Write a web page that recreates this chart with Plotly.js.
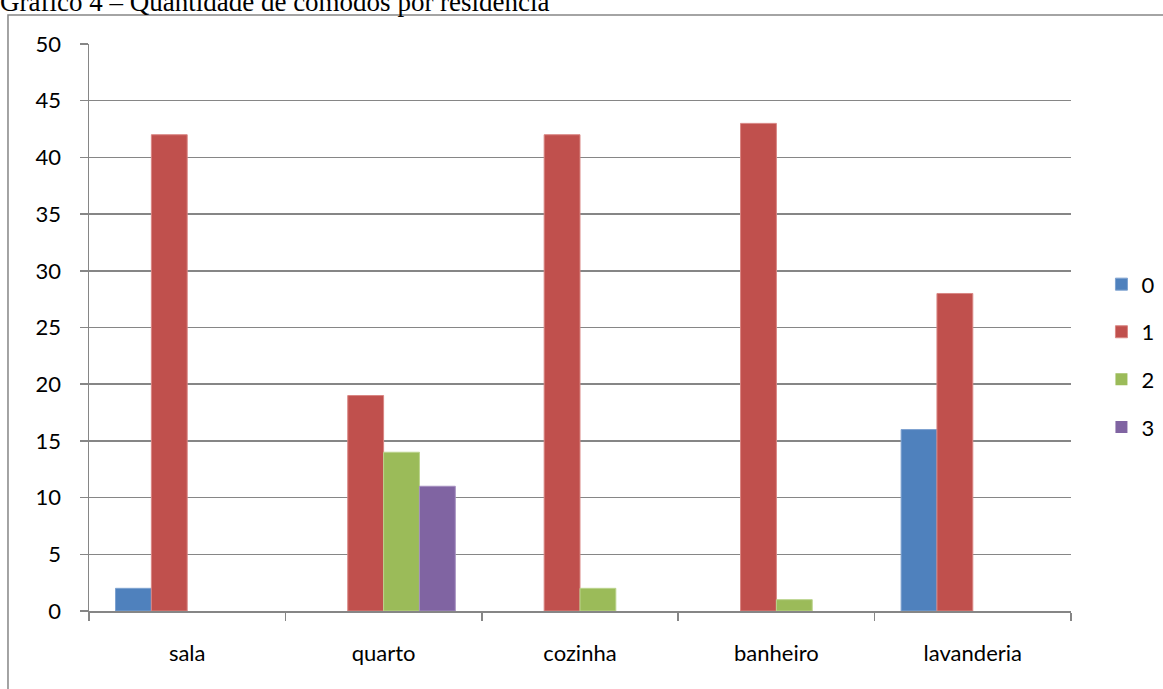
<!DOCTYPE html>
<html>
<head>
<meta charset="utf-8">
<script src="https://cdn.plot.ly/plotly-3.0.1.min.js"></script>
<style>
  html, body { margin: 0; padding: 0; background: #ffffff; }
  #chart { width: 1163px; height: 689px; }
</style>
</head>
<body>
<div id="chart"></div>
<script>
// Rooms per household, counted by how many of each room the home has
const comodos = ['sala', 'quarto', 'cozinha', 'banheiro', 'lavanderia'];
const seriesNames = ['0', '1', '2', '3'];
const qtd0 = [2, 0, 0, 0, 16];
const qtd1 = [42, 19, 42, 43, 28];
const qtd2 = [0, 14, 2, 1, 0];
const qtd3 = [0, 11, 0, 0, 0];
const yTicks = [0, 5, 10, 15, 20, 25, 30, 35, 40, 45, 50];

const fills = ['#4F81BD', '#C0504D', '#9BBB59', '#8064A2'];
const edges = ['#7EA2D0', '#D98683', '#BBD38D', '#A590C0'];
const values = [qtd0, qtd1, qtd2, qtd3];

const grid = '#868686';
const tickFont = { family: 'Lato, "Liberation Sans", sans-serif', size: 22, color: '#000000' };

const traces = values.map((v, i) => ({
  type: 'bar',
  name: seriesNames[i],
  x: comodos,
  y: v,
  legendgroup: 'g' + i,
  // thin lighter edge only on bars that have height
  marker: { color: fills[i], line: { color: edges[i], width: v.map(d => (d > 0 ? 1 : 0)) } },
  hoverinfo: 'x+y+name'
}));

const layout = {
  width: 1163,
  height: 689,
  margin: { l: 89, r: 92, t: 44, b: 78, autoexpand: false },
  paper_bgcolor: '#ffffff',
  plot_bgcolor: '#ffffff',
  barmode: 'group',
  bargap: 0.27,
  bargroupgap: 0,
  title: {
    text: 'Gráfico 4 – Quantidade de cômodos por residência',
    font: { family: '"Liberation Serif", "Times New Roman", serif', size: 27, color: '#000000' },
    xref: 'container', yref: 'container',
    x: 0, xanchor: 'left',
    y: 0.998, yanchor: 'middle',
    pad: { l: 0, t: 0, b: 0, r: 0 }
  },
  xaxis: {
    type: 'category',
    categoryorder: 'array',
    categoryarray: comodos,
    showline: true,
    linecolor: grid,
    linewidth: 1.5,
    showgrid: false,
    ticks: 'outside',
    tickson: 'boundaries',
    ticklen: 8,
    tickwidth: 1.5,
    tickcolor: grid,
    ticklabelstandoff: 22,
    tickfont: tickFont,
    fixedrange: true
  },
  yaxis: {
    range: [0, 50],
    tickvals: yTicks,
    ticktext: yTicks.map(String),
    showline: true,
    linecolor: grid,
    linewidth: 1.5,
    showgrid: true,
    gridcolor: grid,
    gridwidth: 1.5,
    zeroline: false,
    ticks: 'outside',
    ticklen: 8,
    tickwidth: 1.5,
    tickcolor: grid,
    ticklabelstandoff: 14,
    tickfont: tickFont,
    fixedrange: true
  },
  showlegend: true,
  legend: {
    x: 1.031, xanchor: 'left',
    y: 0.45, yanchor: 'middle',
    traceorder: 'grouped',
    tracegroupgap: 16,
    font: tickFont,
    bgcolor: 'rgba(0,0,0,0)',
    borderwidth: 0
  },
  shapes: [{
    type: 'rect',
    xref: 'paper', yref: 'paper',
    x0: -0.0825, x1: 1.3,
    y0: -0.3, y1: 1.0511,
    line: { color: grid, width: 1.5 },
    fillcolor: 'rgba(0,0,0,0)',
    layer: 'below'
  }]
};

Plotly.newPlot('chart', traces, layout, { displayModeBar: false, staticPlot: true });
</script>
</body>
</html>
